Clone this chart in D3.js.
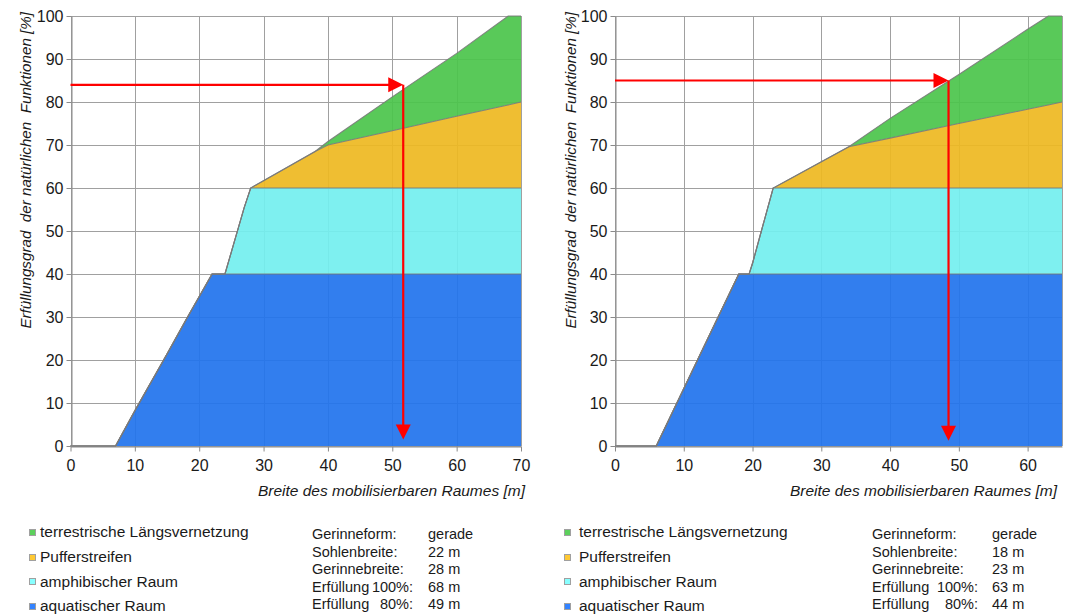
<!DOCTYPE html>
<html>
<head>
<meta charset="utf-8">
<script src="https://cdn.jsdelivr.net/npm/d3@7"></script>
<style>
  html, body { margin: 0; padding: 0; background: #fff; }
  svg { display: block; font-family: "Liberation Sans", Arial, sans-serif; }
  .pre { white-space: pre; }
</style>
</head>
<body>
<svg id="chart" width="1065" height="615"></svg>
<script>
// ---------- data ----------
const layerKeys = ["aquatic", "amphibious", "buffer", "terrestrial"];
const legendLabels = ["terrestrische Längsvernetzung", "Pufferstreifen", "amphibischer Raum", "aquatischer Raum"];
const yTicks = [0, 10, 20, 30, 40, 50, 60, 70, 80, 90, 100];
const leftXTicks = [0, 10, 20, 30, 40, 50, 60, 70];
const rightXTicks = [0, 10, 20, 30, 40, 50, 60];

// left chart (Sohlenbreite 22 m)
const leftX            = [0, 7, 10,  15,   18,   22, 24, 27,   28, 38,  40,  50,   60,   68,   70];
const leftAquatic      = [0, 0, 8.2, 21.4, 29.5, 40, 40, 40,   40, 40,  40,  40,   40,   40,   40];
const leftAmphibious   = [0, 0, 0,   0,    0,    0,  0,  15.5, 20, 20,  20,  20,   20,   20,   20];
const leftBuffer       = [0, 0, 0,   0,    0,    0,  0,  0,    0,  8.5, 10,  13.3, 16.7, 19.3, 20];
const leftTerrestrial  = [0, 0, 0,   0,    0,    0,  0,  0,    0,  0,   0.8, 7.9,  14.6, 20.7, 20];
const leftArrow = [51.7, 84, 1.5];   // x [m], y [%], arrow tip y [%]
const leftInfoValues = ["gerade", "22 m", "28 m", "68 m", "49 m"];

// right chart (Sohlenbreite 18 m)
const rightX           = [0, 6, 9,  12, 15, 18, 19.5, 20,  23, 34,  40,   50,   60,   63,   65];
const rightAquatic     = [0, 0, 10, 20, 30, 40, 40,   40,  40, 40,  40,   40,   40,   40,   40];
const rightAmphibious  = [0, 0, 0,  0,  0,  0,  0,    2.5, 20, 20,  20,   20,   20,   20,   20];
const rightBuffer      = [0, 0, 0,  0,  0,  0,  0,    0,   0,  9.6, 11.6, 15,   18.3, 19.3, 20];
const rightTerrestrial = [0, 0, 0,  0,  0,  0,  0,    0,   0,  0,   4.6,  11.4, 18.6, 20.7, 20];
const rightArrow = [48.5, 85, 1.2];
const rightInfoValues = ["gerade", "18 m", "23 m", "63 m", "44 m"];

const infoLabels = ["Gerinneform:", "Sohlenbreite:", "Gerinnebreite:", "Erfüllung", "Erfüllung"];
const infoPercents = ["", "", "", "100%:", "80%:"];

const xTitle = "Breite des mobilisierbaren Raumes [m]";
const yTitle = "Erfüllungsgrad  der natürlichen  Funktionen [%]";

// ---------- styles ----------
const areaColors = { aquatic: "#2274ed", amphibious: "#74efef", buffer: "#eeb922", terrestrial: "#4cc54c" };
const legendColors = ["#5cd05c", "#ffc933", "#88ffff", "#3383ff"];

const svg = d3.select("#chart");

function drawChart(cfg) {
  const rows = cfg.xs.map((x, i) => ({
    x: x,
    aquatic: cfg.aquatic[i],
    amphibious: cfg.amphibious[i],
    buffer: cfg.buffer[i],
    terrestrial: cfg.terrestrial[i]
  }));
  const stacked = d3.stack().keys(layerKeys)(rows);

  const x = d3.scaleLinear().domain(cfg.xDomain).range(cfg.xRange);
  const y = d3.scaleLinear().domain([0, 100]).range([446, 16]);

  const g = svg.append("g");

  // grid
  const grid = g.append("g").attr("stroke", "#a0a0a0").attr("stroke-width", 1).attr("shape-rendering", "crispEdges");
  grid.selectAll("line.h").data(yTicks).join("line")
    .attr("x1", x(cfg.xDomain[0])).attr("x2", x(cfg.xDomain[1]))
    .attr("y1", d => Math.round(y(d)) + 0.5).attr("y2", d => Math.round(y(d)) + 0.5);
  grid.selectAll("line.v").data(cfg.xTicks.concat([cfg.xDomain[1]])).join("line")
    .attr("y1", y(0)).attr("y2", y(100))
    .attr("x1", d => Math.round(x(d)) + 0.5).attr("x2", d => Math.round(x(d)) + 0.5);

  // areas
  const area = d3.area().x(d => x(d.data.x)).y0(d => y(d[0])).y1(d => y(d[1]));
  const topLine = d3.line().x(d => x(d.data.x)).y(d => y(d[1]));
  g.selectAll("path.layer").data(stacked).join("path")
    .attr("d", area)
    .attr("fill", d => areaColors[d.key])
    .attr("fill-opacity", 0.93);
  g.selectAll("path.edge").data(stacked).join("path")
    .attr("d", topLine)
    .attr("fill", "none")
    .attr("stroke", "#7a7a7a")
    .attr("stroke-width", 1.1)
    .attr("stroke-opacity", 0.9);

  // axes
  const yAxis = d3.axisLeft(y).tickValues(yTicks).tickSize(5).tickSizeOuter(0).tickPadding(3);
  const ya = g.append("g").attr("transform", `translate(${Math.round(x(0)) + 0.5},0)`).call(yAxis);
  const xAxis = d3.axisBottom(x).tickValues(cfg.xTicks).tickSize(5).tickSizeOuter(0).tickPadding(8);
  const xa = g.append("g").attr("transform", `translate(0,${Math.round(y(0)) + 0.5})`).call(xAxis);
  [ya, xa].forEach(a => {
    a.select(".domain").attr("stroke", "#8a8a8a");
    a.selectAll(".tick line").attr("stroke", "#8a8a8a");
    a.selectAll(".tick text").attr("fill", "#1a1a1a").attr("font-size", "16px")
      .attr("font-family", "'Liberation Sans', Arial, sans-serif");
  });

  // axis titles
  g.append("text").text(xTitle)
    .attr("x", cfg.xTitleX).attr("y", 496)
    .attr("text-anchor", "end").attr("font-style", "italic").attr("font-size", "15.5px").attr("fill", "#1a1a1a");
  g.append("text").text(yTitle).attr("class", "pre")
    .attr("transform", `translate(${cfg.yTitleX},12) rotate(-90)`)
    .attr("text-anchor", "end").attr("font-style", "italic").attr("font-size", "15.2px").attr("fill", "#1a1a1a");

  // arrows
  const red = "#ff0000";
  const ax = x(cfg.arrow[0]), ay = y(cfg.arrow[1]), tipY = y(cfg.arrow[2]);
  const head = 15, half = 7.5;
  g.append("line").attr("x1", x(0)).attr("x2", ax - head + 1).attr("y1", ay).attr("y2", ay)
    .attr("stroke", red).attr("stroke-width", 2.2);
  g.append("path").attr("d", `M${ax},${ay} L${ax - head},${ay - half} L${ax - head},${ay + half} Z`).attr("fill", red);
  g.append("line").attr("x1", ax).attr("x2", ax).attr("y1", ay).attr("y2", tipY - head + 1)
    .attr("stroke", red).attr("stroke-width", 2.2);
  g.append("path").attr("d", `M${ax},${tipY} L${ax - half},${tipY - head} L${ax + half},${tipY - head} Z`).attr("fill", red);

  // legend
  const lg = g.append("g");
  legendLabels.forEach((lab, i) => {
    const cy = 532 + i * 24.6;
    lg.append("rect").attr("x", cfg.legendX + 0.5).attr("y", Math.round(cy - 3) + 0.5).attr("width", 6).attr("height", 6)
      .attr("fill", legendColors[i]).attr("stroke", "#a0a0a0").attr("stroke-width", 1);
    lg.append("text").text(lab).attr("x", cfg.legendX + cfg.legendGap).attr("y", cy + 5.4)
      .attr("font-size", "15.5px").attr("fill", "#1a1a1a");
  });

  // info block
  const ig = g.append("g").attr("font-size", "14.5px").attr("fill", "#1a1a1a");
  infoLabels.forEach((lab, i) => {
    const cy = 534 + i * 17.6;
    ig.append("text").text(lab).attr("x", cfg.infoX).attr("y", cy + 5);
    if (infoPercents[i]) {
      ig.append("text").text(infoPercents[i]).attr("x", cfg.infoPctX).attr("y", cy + 5).attr("text-anchor", "end");
    }
    ig.append("text").text(cfg.infoValues[i]).attr("x", cfg.infoValX).attr("y", cy + 5);
  });
}

drawChart({
  xs: leftX, aquatic: leftAquatic, amphibious: leftAmphibious, buffer: leftBuffer, terrestrial: leftTerrestrial,
  xDomain: [0, 70], xRange: [70.5, 521], xTicks: leftXTicks, arrow: leftArrow,
  xTitleX: 525, yTitleX: 31, legendX: 29, legendGap: 11,
  infoX: 312, infoPctX: 413, infoValX: 428, infoValues: leftInfoValues
});
drawChart({
  xs: rightX, aquatic: rightAquatic, amphibious: rightAmphibious, buffer: rightBuffer, terrestrial: rightTerrestrial,
  xDomain: [0, 65], xRange: [615, 1062], xTicks: rightXTicks, arrow: rightArrow,
  xTitleX: 1057, yTitleX: 576, legendX: 564, legendGap: 15,
  infoX: 872, infoPctX: 978, infoValX: 992, infoValues: rightInfoValues
});
</script>
</body>
</html>
